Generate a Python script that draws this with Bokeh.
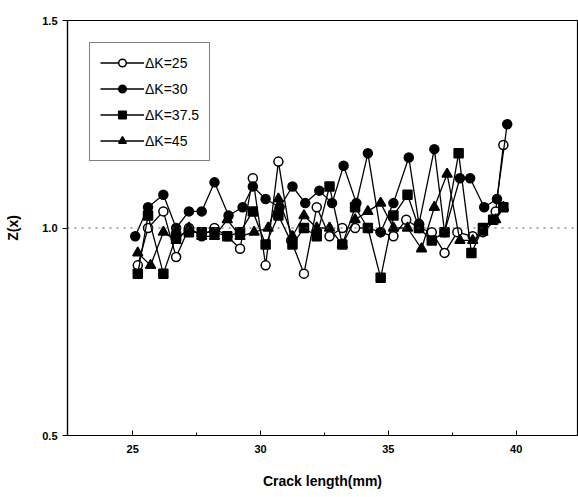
from bokeh.plotting import figure
from bokeh.models import Span, Legend, LegendItem, FixedTicker
from bokeh.embed import file_html
from bokeh.resources import INLINE

# ---- data ----
x25 = [25.2, 25.6, 26.2, 26.7, 27.2, 27.7, 28.2, 28.7, 29.2, 29.7, 30.2, 30.7, 31.2, 31.7, 32.2,
       32.7, 33.2, 33.7, 34.2, 34.7, 35.2, 35.7, 36.2, 36.7, 37.2, 37.7, 38.3, 38.7, 39.2, 39.5]
y25 = [0.91, 1.00, 1.04, 0.93, 1.00, 0.98, 1.00, 0.98, 0.95, 1.12, 0.91, 1.16, 0.97, 0.89, 1.05,
       0.98, 1.00, 1.00, 1.00, 0.99, 0.98, 1.02, 1.00, 0.99, 0.94, 0.99, 0.98, 0.99, 1.04, 1.20]

x30 = [25.1, 25.6, 26.2, 26.7, 27.2, 27.7, 28.2, 28.75, 29.3, 29.7, 30.2, 30.75, 31.25, 31.75, 32.3,
       32.8, 33.25, 33.75, 34.2, 34.7, 35.2, 35.8, 36.2, 36.8, 37.2, 37.8, 38.2, 38.75, 39.25, 39.65]
y30 = [0.98, 1.05, 1.08, 1.00, 1.04, 1.04, 1.11, 1.03, 1.05, 1.10, 1.07, 1.05, 1.10, 1.06, 1.09,
       1.06, 1.15, 1.06, 1.18, 0.99, 1.06, 1.17, 1.01, 1.19, 0.99, 1.12, 1.12, 1.05, 1.07, 1.25]

x375 = [25.2, 25.6, 26.2, 26.7, 27.2, 27.7, 28.2, 28.7, 29.2, 29.7, 30.2, 30.7, 31.25, 31.7, 32.2,
        32.7, 33.2, 33.7, 34.2, 34.7, 35.2, 35.75, 36.2, 36.7, 37.2, 37.75, 38.25, 38.7, 39.1, 39.5]
y375 = [0.89, 1.03, 0.89, 0.98, 0.99, 0.99, 0.99, 0.98, 0.99, 1.04, 0.96, 1.03, 0.96, 1.00, 0.98,
        1.10, 0.96, 1.05, 1.00, 0.88, 1.03, 1.08, 1.00, 0.97, 0.99, 1.18, 0.94, 1.00, 1.02, 1.05]

x45 = [25.2, 25.7, 26.2, 26.7, 27.2, 27.7, 28.2, 28.7, 29.2, 29.75, 30.3, 30.7, 31.25, 31.7, 32.2,
       32.7, 33.2, 33.7, 34.2, 34.7, 35.2, 35.75, 36.3, 36.8, 37.3, 37.8, 38.3, 38.7, 39.2, 39.5]
y45 = [0.94, 0.91, 0.99, 0.97, 1.00, 0.98, 0.98, 1.02, 0.98, 0.99, 1.00, 1.07, 0.98, 1.03, 1.00,
       1.00, 0.96, 1.02, 1.04, 1.06, 1.00, 1.00, 0.95, 1.05, 1.13, 0.97, 0.97, 0.99, 1.02, 1.05]

labels = ["\u0394K=25", "\u0394K=30", "\u0394K=37.5", "\u0394K=45"]
x_ticks = [25, 30, 35, 40]
y_ticks = [0.5, 1.0, 1.5]

FONT = "Liberation Sans"

p = figure(width=578, height=497, x_range=(22.45, 42.4), y_range=(0.5, 1.5),
           output_backend="svg", toolbar_location=None,
           min_border_left=67, min_border_right=1, min_border_top=20, min_border_bottom=62)
p.background_fill_color = "white"
p.border_fill_color = "white"
p.outline_line_color = "black"
p.outline_line_width = 1.2
p.grid.visible = False

p.add_layout(Span(location=1.0, dimension="width", line_color="#555555",
                  line_dash="2 5", line_width=1))

series = [
    (x25, y25, "circle", "white"),
    (x30, y30, "circle", "black"),
    (x375, y375, "square", "black"),
    (x45, y45, "triangle", "black"),
]
items = []
for (xs, ys, mk, fill), lab in zip(series, labels):
    r1 = p.line(xs, ys, line_color="black", line_width=1.3)
    r2 = p.scatter(xs, ys, marker=mk, size=9 if mk != "triangle" else 10,
                   fill_color=fill, line_color="black", line_width=1.5)
    items.append(LegendItem(label=lab, renderers=[r1, r2]))

legend = Legend(items=items, location="top_left")
legend.glyph_width = 44
legend.glyph_height = 19
legend.label_text_font = FONT
legend.label_text_font_size = "14px"
legend.label_text_color = "black"
legend.label_standoff = 1
legend.spacing = 7
legend.padding = 10
legend.margin = 22
legend.border_line_color = "black"
legend.border_line_width = 1.5
legend.background_fill_alpha = 1
p.add_layout(legend)

p.xaxis.ticker = FixedTicker(ticks=x_ticks, minor_ticks=[27.5, 32.5, 37.5])
p.yaxis.ticker = FixedTicker(ticks=y_ticks, minor_ticks=[])
p.yaxis.major_label_overrides = {0.5: "0.5", 1.0: "1.0", 1.5: "1.5"}
for ax in (p.xaxis[0], p.yaxis[0]):
    ax.axis_line_color = "black"
    ax.axis_line_width = 1.2
    ax.major_label_text_font = FONT
    ax.major_label_text_font_size = "11px"
    ax.major_label_text_font_style = "bold"
    ax.major_label_text_color = "black"
    ax.axis_label_text_font = FONT
    ax.axis_label_text_font_size = "14px"
    ax.axis_label_text_font_style = "bold"
    ax.axis_label_text_color = "black"
p.xaxis.major_tick_in = 5
p.xaxis.major_tick_out = 0
p.xaxis.minor_tick_in = 3
p.xaxis.minor_tick_out = 0
p.yaxis.major_tick_in = 0
p.yaxis.major_tick_out = 5
p.yaxis.minor_tick_line_color = None
p.xaxis.major_label_standoff = 9
p.xaxis.axis_label = "Crack length(mm)"
p.yaxis.axis_label = "Z(x)"
p.yaxis.axis_label_standoff = 18
p.xaxis.axis_label_standoff = 17

open("out.html", "w").write(file_html(p, INLINE))
